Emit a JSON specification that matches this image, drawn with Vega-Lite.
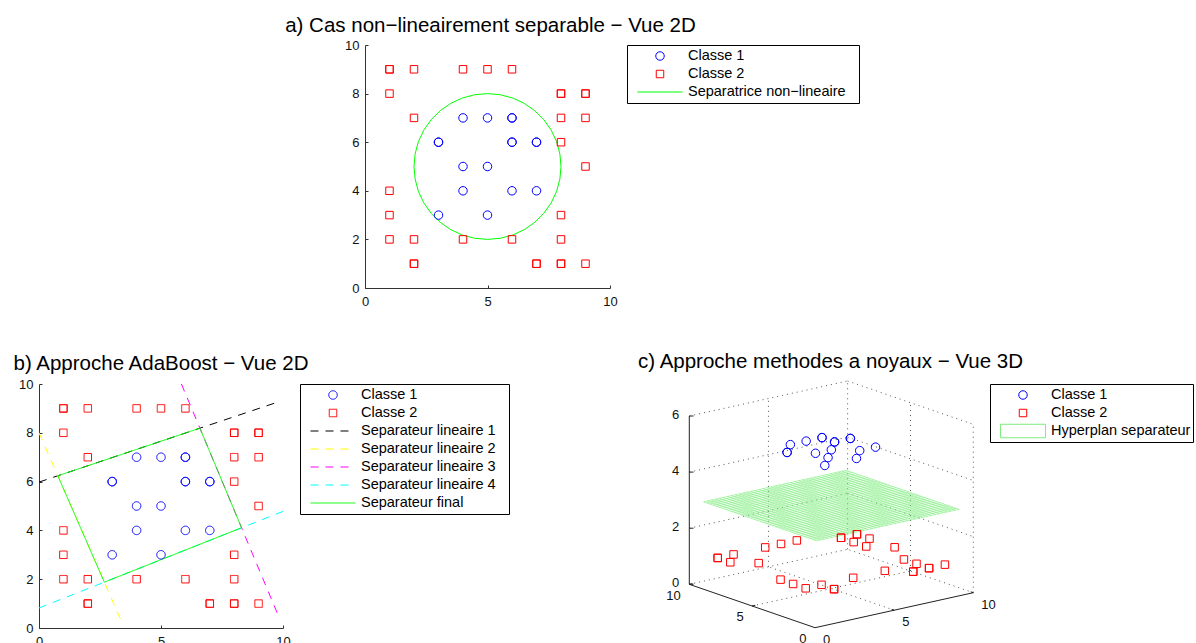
{
  "$schema": "https://vega.github.io/schema/vega-lite/v6.json",
  "background": "white",
  "padding": {"left": 12, "top": 15, "right": 0, "bottom": 0},
  "columns": 3,
  "bounds": "flush",
  "align": "each",
  "spacing": {"row": 96, "column": 17},
  "resolve": {
    "scale": {"x": "independent", "y": "independent", "color": "independent", "shape": "independent", "size": "independent", "strokeDash": "independent"},
    "legend": {"color": "independent", "shape": "independent", "size": "independent", "strokeDash": "independent"}
  },
  "concat": [
    {"width": 309, "height": 243, "data": {"values": []}, "mark": "point"},
    {
      "width": 245,
      "height": 243,
      "title": {"text": "a) Cas non−lineairement separable − Vue 2D", "offset": 3, "dx": 3},
      "encoding": {
        "x": {"field": "x", "type": "quantitative", "title": null, "scale": {"domain": [0, 10], "nice": false, "zero": false}, "axis": {"values": [0, 5, 10]}},
        "y": {"field": "y", "type": "quantitative", "title": null, "scale": {"domain": [0, 10], "nice": false, "zero": false}, "axis": {"values": [0, 2, 4, 6, 8, 10]}},
        "color": {
          "field": "serie", "type": "nominal", "title": null,
          "scale": {"domain": ["Classe 1", "Classe 2", "Separatrice non−lineaire"], "range": ["#0000ff", "#ff0000", "#00ff00"]},
          "legend": {"labelExpr": "datum.label + '\u2800'"}
        }
      },
      "layer": [
        {"data": {"name": "circle"}, "mark": {"type": "line", "strokeWidth": 1}, "encoding": {"order": {"field": "i", "type": "quantitative"}}},
        {
          "data": {"name": "pts"},
          "mark": {"type": "point", "filled": false, "strokeWidth": 1, "opacity": 1},
          "encoding": {
            "shape": {"field": "serie", "type": "nominal", "title": null, "scale": {"domain": ["Classe 1", "Classe 2", "Separatrice non−lineaire"], "range": ["circle", "square", "stroke"]}},
            "size": {"field": "serie", "type": "nominal", "title": null, "scale": {"type": "ordinal", "domain": ["Classe 1", "Classe 2", "Separatrice non−lineaire"], "range": [72, 56, 2025]}}
          }
        }
      ]
    },
    {"width": 1, "height": 1, "data": {"values": []}, "mark": "point"},
    {
      "width": 244,
      "height": 244,
      "title": {"text": "b) Approche AdaBoost − Vue 2D", "offset": 4},
      "encoding": {
        "x": {"field": "x", "type": "quantitative", "title": null, "scale": {"domain": [0, 10], "nice": false, "zero": false}, "axis": {"values": [0, 5, 10]}},
        "y": {"field": "y", "type": "quantitative", "title": null, "scale": {"domain": [0, 10], "nice": false, "zero": false}, "axis": {"values": [0, 2, 4, 6, 8, 10]}},
        "color": {
          "field": "serie", "type": "nominal", "title": null,
          "scale": {"domain": ["Classe 1", "Classe 2", "Separateur lineaire 1", "Separateur lineaire 2", "Separateur lineaire 3", "Separateur lineaire 4", "Separateur final"], "range": ["#0000ff", "#ff0000", "#000000", "#ffff00", "#ff00ff", "#00ffff", "#00ff00"]},
          "legend": {"labelExpr": "datum.label + '\u2800'", "offset": 15}
        },
        "strokeDash": {
          "field": "serie", "type": "nominal", "title": null,
          "scale": {"domain": ["Classe 1", "Classe 2", "Separateur lineaire 1", "Separateur lineaire 2", "Separateur lineaire 3", "Separateur lineaire 4", "Separateur final"], "range": [[1, 0], [1, 0], [8, 7], [8, 7], [8, 7], [8, 7], [1, 0]]}
        }
      },
      "layer": [
        {"data": {"name": "seps"}, "mark": {"type": "line", "strokeWidth": 1}, "encoding": {"order": {"field": "i", "type": "quantitative"}}},
        {"data": {"name": "final"}, "mark": {"type": "line", "strokeWidth": 1}, "encoding": {"order": {"field": "i", "type": "quantitative"}}},
        {
          "data": {"name": "pts"},
          "mark": {"type": "point", "filled": false, "strokeWidth": 1, "opacity": 1},
          "encoding": {
            "shape": {"field": "serie", "type": "nominal", "title": null, "scale": {"domain": ["Classe 1", "Classe 2", "Separateur lineaire 1", "Separateur lineaire 2", "Separateur lineaire 3", "Separateur lineaire 4", "Separateur final"], "range": ["circle", "square", "stroke", "stroke", "stroke", "stroke", "stroke"]}},
            "size": {"field": "serie", "type": "nominal", "title": null, "scale": {"type": "ordinal", "domain": ["Classe 1", "Classe 2", "Separateur lineaire 1", "Separateur lineaire 2", "Separateur lineaire 3", "Separateur lineaire 4", "Separateur final"], "range": [72, 56, 2025, 2025, 2025, 2025, 2025]}}
          }
        }
      ]
    },
    {"width": 258, "height": 1, "data": {"values": []}, "mark": "point"},
    {
      "width": 333,
      "height": 260,
      "title": {"text": "c) Approche methodes a noyaux − Vue 3D", "offset": 8, "dx": 24},
      "encoding": {
        "x": {"field": "u", "type": "quantitative", "scale": {"domain": [-6.239, 5.633], "nice": false, "zero": false}, "axis": null},
        "y": {"field": "v", "type": "quantitative", "scale": {"domain": [-0.581, 8.688], "nice": false, "zero": false}, "axis": null}
      },
      "layer": [
        {"data": {"name": "grid3d"}, "mark": {"type": "rule", "strokeDash": [1, 4], "color": "#555555", "strokeWidth": 1}, "encoding": {"x2": {"field": "u2"}, "y2": {"field": "v2"}}},
        {
          "data": {"name": "mesh"},
          "mark": {"type": "rule", "strokeWidth": 0.6},
          "encoding": {
            "x2": {"field": "u2"}, "y2": {"field": "v2"},
            "color": {
              "field": "serie", "type": "nominal", "title": null,
              "scale": {"domain": ["Classe 1", "Classe 2", "Hyperplan separateur"], "range": ["#0000ff", "#ff0000", "#7fec7f"]}
            }
          }
        },
        {"data": {"name": "axes3d"}, "mark": {"type": "rule", "color": "#222222", "strokeWidth": 1}, "encoding": {"x2": {"field": "u2"}, "y2": {"field": "v2"}}},
        {
          "data": {"name": "pts3d"},
          "mark": {"type": "point", "filled": false, "strokeWidth": 1, "opacity": 1},
          "encoding": {
            "color": {
              "field": "serie", "type": "nominal", "title": null,
              "scale": {"domain": ["Classe 1", "Classe 2", "Hyperplan separateur"], "range": ["#0000ff", "#ff0000", "#7fec7f"]}
            },
            "shape": {"field": "serie", "type": "nominal", "title": null, "scale": {"domain": ["Classe 1", "Classe 2", "Hyperplan separateur"], "range": ["circle", "square", "M-1,-0.3H1V0.3H-1Z"]}},
            "size": {"field": "serie", "type": "nominal", "title": null, "scale": {"type": "ordinal", "domain": ["Classe 1", "Classe 2", "Hyperplan separateur"], "range": [72, 56, 2025]}}
          }
        },
        {"data": {"name": "ticks3d"}, "transform": [{"filter": "datum.axis === 'x'"}], "mark": {"type": "text", "align": "left", "baseline": "middle", "dx": 8, "dy": 12, "fontSize": 13}, "encoding": {"text": {"field": "label"}}},
        {"data": {"name": "ticks3d"}, "transform": [{"filter": "datum.axis === 'y'"}], "mark": {"type": "text", "align": "right", "baseline": "middle", "dx": -8.5, "dy": 11.5, "fontSize": 13}, "encoding": {"text": {"field": "label"}}},
        {"data": {"name": "ticks3d"}, "transform": [{"filter": "datum.axis === 'z'"}], "mark": {"type": "text", "align": "right", "baseline": "middle", "dx": -10, "dy": -1.5, "fontSize": 13}, "encoding": {"text": {"field": "label"}}}
      ]
    }
  ],
  "datasets": {
    "pts": [
      {"x": 4, "y": 7, "serie": "Classe 1"}, {"x": 5, "y": 7, "serie": "Classe 1"}, {"x": 6, "y": 7, "serie": "Classe 1"}, {"x": 6, "y": 7, "serie": "Classe 1"},
      {"x": 3, "y": 6, "serie": "Classe 1"}, {"x": 3, "y": 6, "serie": "Classe 1"}, {"x": 6, "y": 6, "serie": "Classe 1"}, {"x": 6, "y": 6, "serie": "Classe 1"},
      {"x": 7, "y": 6, "serie": "Classe 1"}, {"x": 7, "y": 6, "serie": "Classe 1"}, {"x": 4, "y": 5, "serie": "Classe 1"}, {"x": 5, "y": 5, "serie": "Classe 1"},
      {"x": 4, "y": 4, "serie": "Classe 1"}, {"x": 6, "y": 4, "serie": "Classe 1"}, {"x": 7, "y": 4, "serie": "Classe 1"}, {"x": 3, "y": 3, "serie": "Classe 1"},
      {"x": 5, "y": 3, "serie": "Classe 1"},
      {"x": 1, "y": 9, "serie": "Classe 2"}, {"x": 1, "y": 9, "serie": "Classe 2"}, {"x": 2, "y": 9, "serie": "Classe 2"}, {"x": 4, "y": 9, "serie": "Classe 2"},
      {"x": 5, "y": 9, "serie": "Classe 2"}, {"x": 6, "y": 9, "serie": "Classe 2"}, {"x": 1, "y": 8, "serie": "Classe 2"}, {"x": 8, "y": 8, "serie": "Classe 2"},
      {"x": 8, "y": 8, "serie": "Classe 2"}, {"x": 9, "y": 8, "serie": "Classe 2"}, {"x": 9, "y": 8, "serie": "Classe 2"}, {"x": 2, "y": 7, "serie": "Classe 2"},
      {"x": 8, "y": 7, "serie": "Classe 2"}, {"x": 9, "y": 7, "serie": "Classe 2"}, {"x": 8, "y": 6, "serie": "Classe 2"}, {"x": 9, "y": 5, "serie": "Classe 2"},
      {"x": 1, "y": 4, "serie": "Classe 2"}, {"x": 1, "y": 3, "serie": "Classe 2"}, {"x": 8, "y": 3, "serie": "Classe 2"}, {"x": 1, "y": 2, "serie": "Classe 2"},
      {"x": 2, "y": 2, "serie": "Classe 2"}, {"x": 4, "y": 2, "serie": "Classe 2"}, {"x": 6, "y": 2, "serie": "Classe 2"}, {"x": 8, "y": 2, "serie": "Classe 2"},
      {"x": 2, "y": 1, "serie": "Classe 2"}, {"x": 2, "y": 1, "serie": "Classe 2"}, {"x": 7, "y": 1, "serie": "Classe 2"}, {"x": 7, "y": 1, "serie": "Classe 2"},
      {"x": 8, "y": 1, "serie": "Classe 2"}, {"x": 8, "y": 1, "serie": "Classe 2"}, {"x": 9, "y": 1, "serie": "Classe 2"}
    ],
    "circle": [
      {"i": 0, "x": 8, "y": 5, "serie": "Separatrice non−lineaire"}, {"i": 1, "x": 7.954, "y": 5.521, "serie": "Separatrice non−lineaire"},
      {"i": 2, "x": 7.819, "y": 6.026, "serie": "Separatrice non−lineaire"}, {"i": 3, "x": 7.598, "y": 6.5, "serie": "Separatrice non−lineaire"},
      {"i": 4, "x": 7.298, "y": 6.928, "serie": "Separatrice non−lineaire"}, {"i": 5, "x": 6.928, "y": 7.298, "serie": "Separatrice non−lineaire"},
      {"i": 6, "x": 6.5, "y": 7.598, "serie": "Separatrice non−lineaire"}, {"i": 7, "x": 6.026, "y": 7.819, "serie": "Separatrice non−lineaire"},
      {"i": 8, "x": 5.521, "y": 7.954, "serie": "Separatrice non−lineaire"}, {"i": 9, "x": 5, "y": 8, "serie": "Separatrice non−lineaire"},
      {"i": 10, "x": 4.479, "y": 7.954, "serie": "Separatrice non−lineaire"}, {"i": 11, "x": 3.974, "y": 7.819, "serie": "Separatrice non−lineaire"},
      {"i": 12, "x": 3.5, "y": 7.598, "serie": "Separatrice non−lineaire"}, {"i": 13, "x": 3.072, "y": 7.298, "serie": "Separatrice non−lineaire"},
      {"i": 14, "x": 2.702, "y": 6.928, "serie": "Separatrice non−lineaire"}, {"i": 15, "x": 2.402, "y": 6.5, "serie": "Separatrice non−lineaire"},
      {"i": 16, "x": 2.181, "y": 6.026, "serie": "Separatrice non−lineaire"}, {"i": 17, "x": 2.046, "y": 5.521, "serie": "Separatrice non−lineaire"},
      {"i": 18, "x": 2, "y": 5, "serie": "Separatrice non−lineaire"}, {"i": 19, "x": 2.046, "y": 4.479, "serie": "Separatrice non−lineaire"},
      {"i": 20, "x": 2.181, "y": 3.974, "serie": "Separatrice non−lineaire"}, {"i": 21, "x": 2.402, "y": 3.5, "serie": "Separatrice non−lineaire"},
      {"i": 22, "x": 2.702, "y": 3.072, "serie": "Separatrice non−lineaire"}, {"i": 23, "x": 3.072, "y": 2.702, "serie": "Separatrice non−lineaire"},
      {"i": 24, "x": 3.5, "y": 2.402, "serie": "Separatrice non−lineaire"}, {"i": 25, "x": 3.974, "y": 2.181, "serie": "Separatrice non−lineaire"},
      {"i": 26, "x": 4.479, "y": 2.046, "serie": "Separatrice non−lineaire"}, {"i": 27, "x": 5, "y": 2, "serie": "Separatrice non−lineaire"},
      {"i": 28, "x": 5.521, "y": 2.046, "serie": "Separatrice non−lineaire"}, {"i": 29, "x": 6.026, "y": 2.181, "serie": "Separatrice non−lineaire"},
      {"i": 30, "x": 6.5, "y": 2.402, "serie": "Separatrice non−lineaire"}, {"i": 31, "x": 6.928, "y": 2.702, "serie": "Separatrice non−lineaire"},
      {"i": 32, "x": 7.298, "y": 3.072, "serie": "Separatrice non−lineaire"}, {"i": 33, "x": 7.598, "y": 3.5, "serie": "Separatrice non−lineaire"},
      {"i": 34, "x": 7.819, "y": 3.974, "serie": "Separatrice non−lineaire"}, {"i": 35, "x": 7.954, "y": 4.479, "serie": "Separatrice non−lineaire"},
      {"i": 36, "x": 8, "y": 5, "serie": "Separatrice non−lineaire"}
    ],
    "seps": [
      {"serie": "Separateur lineaire 1", "i": 0, "x": 0, "y": 5.98}, {"serie": "Separateur lineaire 1", "i": 1, "x": 9.75, "y": 9.246},
      {"serie": "Separateur lineaire 2", "i": 0, "x": 0, "y": 8}, {"serie": "Separateur lineaire 2", "i": 1, "x": 3.42, "y": 0.18},
      {"serie": "Separateur lineaire 3", "i": 0, "x": 5.837, "y": 10}, {"serie": "Separateur lineaire 3", "i": 1, "x": 9.86, "y": 0.385},
      {"serie": "Separateur lineaire 4", "i": 0, "x": 0, "y": 0.82}, {"serie": "Separateur lineaire 4", "i": 1, "x": 10, "y": 4.78}
    ],
    "final": [
      {"serie": "Separateur final", "i": 0, "x": 0.771, "y": 6.238}, {"serie": "Separateur final", "i": 1, "x": 6.594, "y": 8.19},
      {"serie": "Separateur final", "i": 2, "x": 8.302, "y": 4.108}, {"serie": "Separateur final", "i": 3, "x": 2.677, "y": 1.88},
      {"serie": "Separateur final", "i": 4, "x": 0.771, "y": 6.238}
    ],
    "pts3d": [
      {"x": 4, "y": 7, "serie": "Classe 1", "u": -0.879, "v": 6.527}, {"x": 5, "y": 7, "serie": "Classe 1", "u": -0.315, "v": 6.652},
      {"x": 6, "y": 7, "serie": "Classe 1", "u": 0.250, "v": 6.777}, {"x": 6, "y": 7, "serie": "Classe 1", "u": 0.250, "v": 6.777},
      {"x": 3, "y": 6, "serie": "Classe 1", "u": -0.995, "v": 6.248}, {"x": 3, "y": 6, "serie": "Classe 1", "u": -0.995, "v": 6.248},
      {"x": 6, "y": 6, "serie": "Classe 1", "u": 0.698, "v": 6.622}, {"x": 6, "y": 6, "serie": "Classe 1", "u": 0.698, "v": 6.622},
      {"x": 7, "y": 6, "serie": "Classe 1", "u": 1.262, "v": 6.747}, {"x": 7, "y": 6, "serie": "Classe 1", "u": 1.262, "v": 6.747},
      {"x": 4, "y": 5, "serie": "Classe 1", "u": 0.017, "v": 6.218}, {"x": 5, "y": 5, "serie": "Classe 1", "u": 0.582, "v": 6.343},
      {"x": 4, "y": 4, "serie": "Classe 1", "u": 0.465, "v": 6.063}, {"x": 6, "y": 4, "serie": "Classe 1", "u": 1.594, "v": 6.313},
      {"x": 7, "y": 4, "serie": "Classe 1", "u": 2.158, "v": 6.437}, {"x": 3, "y": 3, "serie": "Classe 1", "u": 0.349, "v": 5.784},
      {"x": 5, "y": 3, "serie": "Classe 1", "u": 1.478, "v": 6.033},
      {"x": 1, "y": 9, "serie": "Classe 2", "u": -3.469, "v": 2.487}, {"x": 1, "y": 9, "serie": "Classe 2", "u": -3.469, "v": 2.487},
      {"x": 2, "y": 9, "serie": "Classe 2", "u": -2.904, "v": 2.612}, {"x": 4, "y": 9, "serie": "Classe 2", "u": -1.775, "v": 2.862},
      {"x": 5, "y": 9, "serie": "Classe 2", "u": -1.211, "v": 2.986}, {"x": 6, "y": 9, "serie": "Classe 2", "u": -0.647, "v": 3.111},
      {"x": 1, "y": 8, "serie": "Classe 2", "u": -3.020, "v": 2.332}, {"x": 8, "y": 8, "serie": "Classe 2", "u": 0.930, "v": 3.206},
      {"x": 8, "y": 8, "serie": "Classe 2", "u": 0.930, "v": 3.206}, {"x": 9, "y": 8, "serie": "Classe 2", "u": 1.495, "v": 3.331},
      {"x": 9, "y": 8, "serie": "Classe 2", "u": 1.495, "v": 3.331}, {"x": 2, "y": 7, "serie": "Classe 2", "u": -2.008, "v": 2.303},
      {"x": 8, "y": 7, "serie": "Classe 2", "u": 1.379, "v": 3.051}, {"x": 9, "y": 7, "serie": "Classe 2", "u": 1.943, "v": 3.176},
      {"x": 8, "y": 6, "serie": "Classe 2", "u": 1.827, "v": 2.897}, {"x": 9, "y": 5, "serie": "Classe 2", "u": 2.839, "v": 2.867},
      {"x": 1, "y": 4, "serie": "Classe 2", "u": -1.228, "v": 1.714}, {"x": 1, "y": 3, "serie": "Classe 2", "u": -0.780, "v": 1.559},
      {"x": 8, "y": 3, "serie": "Classe 2", "u": 3.171, "v": 2.433}, {"x": 1, "y": 2, "serie": "Classe 2", "u": -0.332, "v": 1.404},
      {"x": 2, "y": 2, "serie": "Classe 2", "u": 0.233, "v": 1.529}, {"x": 4, "y": 2, "serie": "Classe 2", "u": 1.361, "v": 1.779},
      {"x": 6, "y": 2, "serie": "Classe 2", "u": 2.490, "v": 2.028}, {"x": 8, "y": 2, "serie": "Classe 2", "u": 3.619, "v": 2.278},
      {"x": 2, "y": 1, "serie": "Classe 2", "u": 0.681, "v": 1.374}, {"x": 2, "y": 1, "serie": "Classe 2", "u": 0.681, "v": 1.374},
      {"x": 7, "y": 1, "serie": "Classe 2", "u": 3.503, "v": 1.998}, {"x": 7, "y": 1, "serie": "Classe 2", "u": 3.503, "v": 1.998},
      {"x": 8, "y": 1, "serie": "Classe 2", "u": 4.067, "v": 2.123}, {"x": 8, "y": 1, "serie": "Classe 2", "u": 4.067, "v": 2.123},
      {"x": 9, "y": 1, "serie": "Classe 2", "u": 4.632, "v": 2.248}
    ],
    "grid3d": [
      {"u": 2.822, "v": 0.624, "u2": -1.659, "v2": 2.171}, {"u": 5.644, "v": 1.248, "u2": 1.163, "v2": 2.795},
      {"u": -2.241, "v": 0.774, "u2": 3.404, "v2": 2.022}, {"u": -4.481, "v": 1.547, "u2": 1.163, "v2": 2.795},
      {"u": -1.659, "v": 2.171, "u2": -1.659, "v2": 8.171}, {"u": 1.163, "v": 2.795, "u2": 1.163, "v2": 8.795},
      {"u": -4.481, "v": 3.547, "u2": 1.163, "v2": 4.795}, {"u": -4.481, "v": 5.547, "u2": 1.163, "v2": 6.795},
      {"u": -4.481, "v": 7.547, "u2": 1.163, "v2": 8.795}, {"u": 3.404, "v": 2.022, "u2": 3.404, "v2": 8.022},
      {"u": 5.644, "v": 1.248, "u2": 5.644, "v2": 7.248}, {"u": 1.163, "v": 4.795, "u2": 5.644, "v2": 3.248},
      {"u": 1.163, "v": 6.795, "u2": 5.644, "v2": 5.248}, {"u": 1.163, "v": 8.795, "u2": 5.644, "v2": 7.248}
    ],
    "axes3d": [
      {"u": -4.481, "v": 1.547, "u2": -4.481, "v2": 7.547}, {"u": 0, "v": 0, "u2": -4.481, "v2": 1.547}, {"u": 0, "v": 0, "u2": 5.644, "v2": 1.248},
      {"u": -4.481, "v": 1.547, "u2": -4.331, "v2": 1.547}, {"u": -4.481, "v": 3.547, "u2": -4.331, "v2": 3.547},
      {"u": -4.481, "v": 5.547, "u2": -4.331, "v2": 5.547}, {"u": -4.481, "v": 7.547, "u2": -4.331, "v2": 7.547},
      {"u": 2.822, "v": 0.624, "u2": 2.732, "v2": 0.655}, {"u": 5.644, "v": 1.248, "u2": 5.554, "v2": 1.279},
      {"u": -2.241, "v": 0.774, "u2": -2.128, "v2": 0.799}, {"u": -4.481, "v": 1.547, "u2": -4.368, "v2": 1.572}
    ],
    "ticks3d": [
      {"axis": "x", "label": "0", "u": 0, "v": 0}, {"axis": "x", "label": "5", "u": 2.822, "v": 0.624}, {"axis": "x", "label": "10", "u": 5.644, "v": 1.248},
      {"axis": "y", "label": "0", "u": 0, "v": 0}, {"axis": "y", "label": "5", "u": -2.241, "v": 0.774}, {"axis": "y", "label": "10", "u": -4.481, "v": 1.547},
      {"axis": "z", "label": "0", "u": -4.481, "v": 1.547}, {"axis": "z", "label": "2", "u": -4.481, "v": 3.547},
      {"axis": "z", "label": "4", "u": -4.481, "v": 5.547}, {"axis": "z", "label": "6", "u": -4.481, "v": 7.547}
    ],
    "mesh": [
      {"serie": "Hyperplan separateur", "u": 0.058, "v": 3.097, "u2": -3.975, "v2": 4.489}, {"serie": "Hyperplan separateur", "u": 0.199, "v": 3.128, "u2": -3.834, "v2": 4.520},
      {"serie": "Hyperplan separateur", "u": 0.340, "v": 3.159, "u2": -3.693, "v2": 4.551}, {"serie": "Hyperplan separateur", "u": 0.481, "v": 3.190, "u2": -3.552, "v2": 4.583},
      {"serie": "Hyperplan separateur", "u": 0.623, "v": 3.222, "u2": -3.410, "v2": 4.614}, {"serie": "Hyperplan separateur", "u": 0.764, "v": 3.253, "u2": -3.269, "v2": 4.645},
      {"serie": "Hyperplan separateur", "u": 0.905, "v": 3.284, "u2": -3.128, "v2": 4.676}, {"serie": "Hyperplan separateur", "u": 1.046, "v": 3.315, "u2": -2.987, "v2": 4.708},
      {"serie": "Hyperplan separateur", "u": 1.187, "v": 3.346, "u2": -2.846, "v2": 4.739}, {"serie": "Hyperplan separateur", "u": 1.328, "v": 3.378, "u2": -2.705, "v2": 4.770},
      {"serie": "Hyperplan separateur", "u": 1.469, "v": 3.409, "u2": -2.564, "v2": 4.801}, {"serie": "Hyperplan separateur", "u": 1.610, "v": 3.440, "u2": -2.423, "v2": 4.832},
      {"serie": "Hyperplan separateur", "u": 1.751, "v": 3.471, "u2": -2.282, "v2": 4.863}, {"serie": "Hyperplan separateur", "u": 1.892, "v": 3.502, "u2": -2.141, "v2": 4.895},
      {"serie": "Hyperplan separateur", "u": 2.034, "v": 3.534, "u2": -1.999, "v2": 4.926}, {"serie": "Hyperplan separateur", "u": 2.175, "v": 3.565, "u2": -1.858, "v2": 4.957},
      {"serie": "Hyperplan separateur", "u": 2.316, "v": 3.596, "u2": -1.717, "v2": 4.988}, {"serie": "Hyperplan separateur", "u": 2.457, "v": 3.627, "u2": -1.576, "v2": 5.019},
      {"serie": "Hyperplan separateur", "u": 2.598, "v": 3.658, "u2": -1.435, "v2": 5.051}, {"serie": "Hyperplan separateur", "u": 2.739, "v": 3.690, "u2": -1.294, "v2": 5.082},
      {"serie": "Hyperplan separateur", "u": 2.880, "v": 3.721, "u2": -1.153, "v2": 5.113}, {"serie": "Hyperplan separateur", "u": 3.021, "v": 3.752, "u2": -1.012, "v2": 5.144},
      {"serie": "Hyperplan separateur", "u": 3.162, "v": 3.783, "u2": -0.871, "v2": 5.175}, {"serie": "Hyperplan separateur", "u": 3.303, "v": 3.814, "u2": -0.730, "v2": 5.207},
      {"serie": "Hyperplan separateur", "u": 3.445, "v": 3.846, "u2": -0.588, "v2": 5.238}, {"serie": "Hyperplan separateur", "u": 3.586, "v": 3.877, "u2": -0.447, "v2": 5.269},
      {"serie": "Hyperplan separateur", "u": 3.727, "v": 3.908, "u2": -0.306, "v2": 5.300}, {"serie": "Hyperplan separateur", "u": 3.868, "v": 3.939, "u2": -0.165, "v2": 5.331},
      {"serie": "Hyperplan separateur", "u": 4.009, "v": 3.970, "u2": -0.024, "v2": 5.363}, {"serie": "Hyperplan separateur", "u": 4.150, "v": 4.002, "u2": 0.117, "v2": 5.394},
      {"serie": "Hyperplan separateur", "u": 4.291, "v": 4.033, "u2": 0.258, "v2": 5.425}, {"serie": "Hyperplan separateur", "u": 4.432, "v": 4.064, "u2": 0.399, "v2": 5.456},
      {"serie": "Hyperplan separateur", "u": 4.573, "v": 4.095, "u2": 0.540, "v2": 5.487}, {"serie": "Hyperplan separateur", "u": 4.714, "v": 4.126, "u2": 0.681, "v2": 5.519},
      {"serie": "Hyperplan separateur", "u": 4.856, "v": 4.158, "u2": 0.823, "v2": 5.550}, {"serie": "Hyperplan separateur", "u": 4.997, "v": 4.189, "u2": 0.964, "v2": 5.581},
      {"serie": "Hyperplan separateur", "u": 5.138, "v": 4.220, "u2": 1.105, "v2": 5.612},
      {"serie": "Hyperplan separateur", "u": 0.058, "v": 3.097, "u2": 5.138, "v2": 4.220}, {"serie": "Hyperplan separateur", "u": -0.054, "v": 3.135, "u2": 5.026, "v2": 4.259},
      {"serie": "Hyperplan separateur", "u": -0.166, "v": 3.174, "u2": 4.914, "v2": 4.297}, {"serie": "Hyperplan separateur", "u": -0.278, "v": 3.213, "u2": 4.802, "v2": 4.336},
      {"serie": "Hyperplan separateur", "u": -0.390, "v": 3.251, "u2": 4.690, "v2": 4.375}, {"serie": "Hyperplan separateur", "u": -0.502, "v": 3.290, "u2": 4.578, "v2": 4.413},
      {"serie": "Hyperplan separateur", "u": -0.614, "v": 3.329, "u2": 4.466, "v2": 4.452}, {"serie": "Hyperplan separateur", "u": -0.726, "v": 3.367, "u2": 4.354, "v2": 4.491},
      {"serie": "Hyperplan separateur", "u": -0.838, "v": 3.406, "u2": 4.242, "v2": 4.529}, {"serie": "Hyperplan separateur", "u": -0.950, "v": 3.445, "u2": 4.130, "v2": 4.568},
      {"serie": "Hyperplan separateur", "u": -1.062, "v": 3.484, "u2": 4.018, "v2": 4.607}, {"serie": "Hyperplan separateur", "u": -1.174, "v": 3.522, "u2": 3.905, "v2": 4.645},
      {"serie": "Hyperplan separateur", "u": -1.286, "v": 3.561, "u2": 3.793, "v2": 4.684}, {"serie": "Hyperplan separateur", "u": -1.398, "v": 3.600, "u2": 3.681, "v2": 4.723},
      {"serie": "Hyperplan separateur", "u": -1.510, "v": 3.638, "u2": 3.569, "v2": 4.761}, {"serie": "Hyperplan separateur", "u": -1.622, "v": 3.677, "u2": 3.457, "v2": 4.800},
      {"serie": "Hyperplan separateur", "u": -1.734, "v": 3.716, "u2": 3.345, "v2": 4.839}, {"serie": "Hyperplan separateur", "u": -1.846, "v": 3.754, "u2": 3.233, "v2": 4.877},
      {"serie": "Hyperplan separateur", "u": -1.958, "v": 3.793, "u2": 3.121, "v2": 4.916}, {"serie": "Hyperplan separateur", "u": -2.070, "v": 3.832, "u2": 3.009, "v2": 4.955},
      {"serie": "Hyperplan separateur", "u": -2.182, "v": 3.870, "u2": 2.897, "v2": 4.993}, {"serie": "Hyperplan separateur", "u": -2.294, "v": 3.909, "u2": 2.785, "v2": 5.032},
      {"serie": "Hyperplan separateur", "u": -2.406, "v": 3.948, "u2": 2.673, "v2": 5.071}, {"serie": "Hyperplan separateur", "u": -2.518, "v": 3.986, "u2": 2.561, "v2": 5.109},
      {"serie": "Hyperplan separateur", "u": -2.630, "v": 4.025, "u2": 2.449, "v2": 5.148}, {"serie": "Hyperplan separateur", "u": -2.742, "v": 4.064, "u2": 2.337, "v2": 5.187},
      {"serie": "Hyperplan separateur", "u": -2.855, "v": 4.102, "u2": 2.225, "v2": 5.226}, {"serie": "Hyperplan separateur", "u": -2.967, "v": 4.141, "u2": 2.113, "v2": 5.264},
      {"serie": "Hyperplan separateur", "u": -3.079, "v": 4.180, "u2": 2.001, "v2": 5.303}, {"serie": "Hyperplan separateur", "u": -3.191, "v": 4.218, "u2": 1.889, "v2": 5.342},
      {"serie": "Hyperplan separateur", "u": -3.303, "v": 4.257, "u2": 1.777, "v2": 5.380}, {"serie": "Hyperplan separateur", "u": -3.415, "v": 4.296, "u2": 1.665, "v2": 5.419},
      {"serie": "Hyperplan separateur", "u": -3.527, "v": 4.334, "u2": 1.553, "v2": 5.458}, {"serie": "Hyperplan separateur", "u": -3.639, "v": 4.373, "u2": 1.441, "v2": 5.496},
      {"serie": "Hyperplan separateur", "u": -3.751, "v": 4.412, "u2": 1.329, "v2": 5.535}, {"serie": "Hyperplan separateur", "u": -3.863, "v": 4.450, "u2": 1.217, "v2": 5.574},
      {"serie": "Hyperplan separateur", "u": -3.975, "v": 4.489, "u2": 1.105, "v2": 5.612}
    ]
  },
  "config": {
    "view": {"stroke": null},
    "font": "Liberation Sans",
    "title": {"fontSize": 20.5, "fontWeight": "normal", "font": "Liberation Sans", "color": "#000000", "baseline": "alphabetic", "anchor": "middle", "frame": "group"},
    "axis": {"labelFont": "Liberation Sans", "labelFontSize": 13, "labelColor": "#111111", "domainColor": "#333333", "domainWidth": 1, "tickColor": "#333333", "tickWidth": 1, "tickSize": -3, "grid": false, "labelFlush": false, "labelOverlap": false, "labelBound": false},
    "axisX": {"labelPadding": 10},
    "axisY": {"labelPadding": 9},
    "legend": {"orient": "right", "offset": 17, "padding": 2, "clipHeight": 18, "rowPadding": 0, "symbolOffset": 8, "labelOffset": 5, "labelFont": "Liberation Sans", "labelFontSize": 14.5, "labelColor": "#000000", "strokeColor": "#000000", "fillColor": "#ffffff", "symbolStrokeWidth": 1, "labelLimit": 400},
    "text": {"font": "Liberation Sans", "fontSize": 13, "color": "#111111"}
  }
}
